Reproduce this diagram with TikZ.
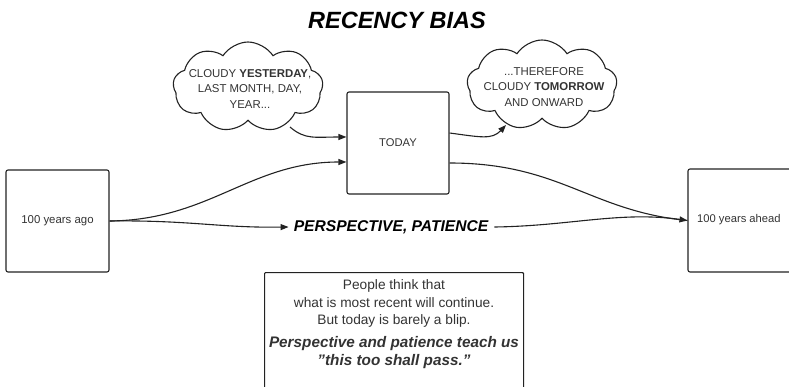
\documentclass[tikz,border=0pt]{standalone}
\usepackage{fontspec}
\setmainfont{Liberation Sans}
\usetikzlibrary{shapes.symbols,arrows.meta,calc}
\definecolor{ink}{HTML}{222222}
\definecolor{txt}{HTML}{333333}
\tikzset{
  box/.style={draw=ink,line width=1.1pt,rounded corners=2pt},
  cloudbox/.style={draw=ink,line width=1.1pt,cloud,cloud puffs=9,cloud puff arc=115,aspect=1.65,inner sep=0pt},
  lbl/.style={text=txt,font=\fontsize{11.4}{15.5}\selectfont,align=center,inner sep=0pt},
  arr/.style={draw=ink,line width=1.1pt,-{Triangle[length=8pt,width=6pt]}},
  conn/.style={draw=ink,line width=1.1pt}
}
\begin{document}
\begin{tikzpicture}[x=1pt,y=-1pt]
\useasboundingbox (0,0) rectangle (789,387);
\clip (0,0) rectangle (789,387);
% title
\node (title) at (397,20) {\fontsize{23.5}{26}\selectfont\bfseries\itshape RECENCY BIAS};
% boxes
\node[box,minimum width=103pt,minimum height=102pt] (past) at (57.5,221) {};
\node[lbl,font=\fontsize{11.4}{13}\selectfont] (pasttxt) at (past.center) {100 years ago};
\node[box,minimum width=102pt,minimum height=102pt] (today) at (398,143) {};
\node[lbl,font=\fontsize{11.2}{13}\selectfont] (todaytxt) at (today.center) {TODAY};
\node[box,minimum width=114pt,minimum height=103pt] (future) at (745,220.5) {};
\node[lbl,font=\fontsize{11.2}{13}\selectfont,anchor=west] (futuretxt) at (697,220) {100 years ahead};
% clouds
\node[cloudbox,minimum width=150pt,minimum height=90pt] (lc) at (248,87) {};
\node[lbl] (lctxt) at (250,89) {CLOUDY \textbf{YESTERDAY},\\LAST MONTH, DAY,\\YEAR...};
\node[cloudbox,minimum width=150pt,minimum height=90pt] (rc) at (542,85) {};
\node[lbl] (rctxt) at (544,87) {...THEREFORE\\CLOUDY \textbf{TOMORROW}\\AND ONWARD};
% perspective label
\node[inner sep=0pt] (persp) at (391,227) {\fontsize{15.6}{18}\selectfont\bfseries\itshape PERSPECTIVE, PATIENCE};
% bottom note
\node[box,rounded corners=1pt,minimum width=259pt,minimum height=130pt,anchor=north west] (note) at (264,272) {};
\node[lbl,font=\fontsize{13.7}{17.5}\selectfont,anchor=north] (notetxt) at (394,279.5) {People think that\\what is most recent will continue.\\But today is barely a blip.\\[5.5pt]{\fontsize{15.3}{17.5}\selectfont\bfseries\itshape Perspective and patience teach us}\\{\fontsize{15.3}{17.5}\selectfont\bfseries\itshape \symbol{34}this too shall pass.\symbol{34}}};
% connectors
\coordinate (lcout) at (290,127);
\coordinate (todayin1) at ($(today.west)+(0,-6)$);
\coordinate (todayin2) at ($(today.west)+(0,19)$);
\coordinate (todayout1) at ($(today.east)+(0,-10)$);
\coordinate (todayout2) at ($(today.east)+(0,20)$);
\coordinate (rcin) at (506,125);
\draw[arr] (lcout) .. controls (305,140) and (315,137) .. (todayin1);
\draw[arr] (past.east) .. controls (210,220) and (250,162) .. (todayin2);
\draw[arr] (past.east) .. controls (190,220) and (220,228) .. ($(persp.west)+(-5,0)$);
\draw[arr] ($(persp.east)+(6,0)$) .. controls (570,226) and (620,211) .. (future.west);
\draw[arr] (todayout1) .. controls (480,137) and (492,140) .. (rcin);
\draw[conn] (todayout2) .. controls (560,163) and (590,211) .. (future.west);
\end{tikzpicture}
\end{document}
